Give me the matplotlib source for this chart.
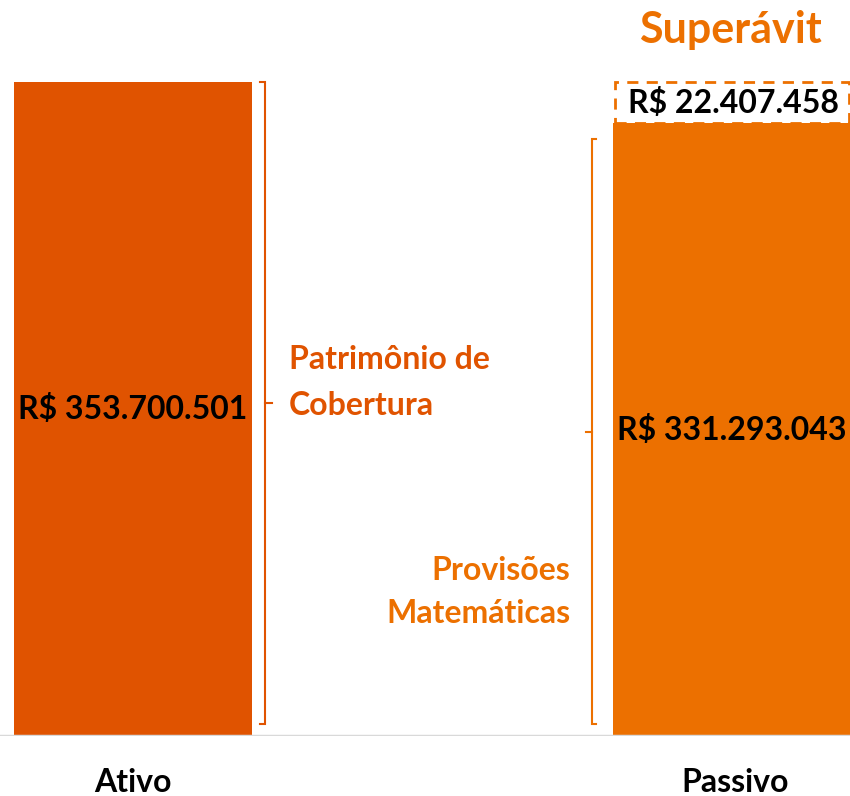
import matplotlib
matplotlib.use("Agg")
import matplotlib.pyplot as plt

# values in R$
categories = ["Ativo", "Passivo"]
ativo = 353700501
passivo = 331293043
superavit = 22407458

value_labels = ["R$ 353.700.501", "R$ 331.293.043"]
superavit_label = "R$ 22.407.458"

c_ativo = "#E05300"
c_passivo = "#EC7000"

plt.rcParams["font.family"] = ["Lato", "DejaVu Sans"]
fs = 23

fig = plt.figure(figsize=(8.5, 7.96), dpi=100)
ax = fig.add_axes([0, 60 / 796, 1, 736 / 796])

x = [0, 1]
w = 0.397
ax.bar(x[0], ativo, width=w, color=c_ativo, zorder=2)
ax.bar(x[1], passivo, width=w, color=c_passivo, zorder=2)
# surplus box on top of passivo
ax.bar(x[1], superavit, bottom=passivo, width=w - 0.006, color="white",
       edgecolor=c_passivo, linestyle=(0, (4, 3)), linewidth=2, zorder=1)

ax.set_xlim(-0.222, 1.197)
ax.set_ylim(0, ativo * 736 / 654)
ax.axis("off")

# baseline
ax.axhline(0, color="#d9d9d9", linewidth=2.5, zorder=3)

# value labels
ax.text(x[0], ativo * 0.5, value_labels[0], ha="center", va="center",
        fontsize=fs, fontweight="bold", color="black")
ax.text(x[1], passivo * 0.5, value_labels[1], ha="center", va="center",
        fontsize=fs, fontweight="bold", color="black")
ax.text(x[1] + 0.003, passivo + superavit / 2, superavit_label, ha="center", va="center",
        fontsize=fs, fontweight="bold", color="black", zorder=4)
ax.text(x[1] - 0.002, ativo + superavit * 1.25, "Superávit", ha="center", va="center",
        fontsize=31, fontweight="bold", color=c_passivo)

# brackets
lb = x[0] + w / 2 + 0.022
top_l, bot_l = ativo, ativo * 0.018
ax.plot([lb - 0.008, lb, lb, lb - 0.008], [top_l, top_l, bot_l, bot_l],
        color=c_ativo, linewidth=1.5, solid_joinstyle="miter")
ax.plot([lb, lb + 0.012], [(top_l + bot_l) / 2] * 2, color=c_ativo, linewidth=1.5)

rb = x[1] - w / 2 - 0.036
top_r, bot_r = passivo * 0.974, ativo * 0.018
ax.plot([rb + 0.008, rb, rb, rb + 0.008], [top_r, top_r, bot_r, bot_r],
        color=c_passivo, linewidth=1.5, solid_joinstyle="miter")
ax.plot([rb, rb - 0.01], [(top_r + bot_r) / 2] * 2, color=c_passivo, linewidth=1.5)

ax.text(lb + 0.04, ativo * 0.54, "Patrimônio de\nCobertura",
        ha="left", va="center", fontsize=fs, fontweight="bold", color=c_ativo,
        linespacing=1.72)
ax.text(rb - 0.035, ativo * 0.22, "Provisões\nMatemáticas",
        ha="right", va="center", fontsize=fs, fontweight="bold", color=c_passivo,
        linespacing=1.56)

# category labels
for xi, cat in zip(x, categories):
    ax.text(xi + (0.006 if xi else 0), -ativo * 0.071, cat, ha="center", va="center",
            fontsize=fs, fontweight="bold", color="black", clip_on=False)

fig.savefig("out.png", dpi=100)
